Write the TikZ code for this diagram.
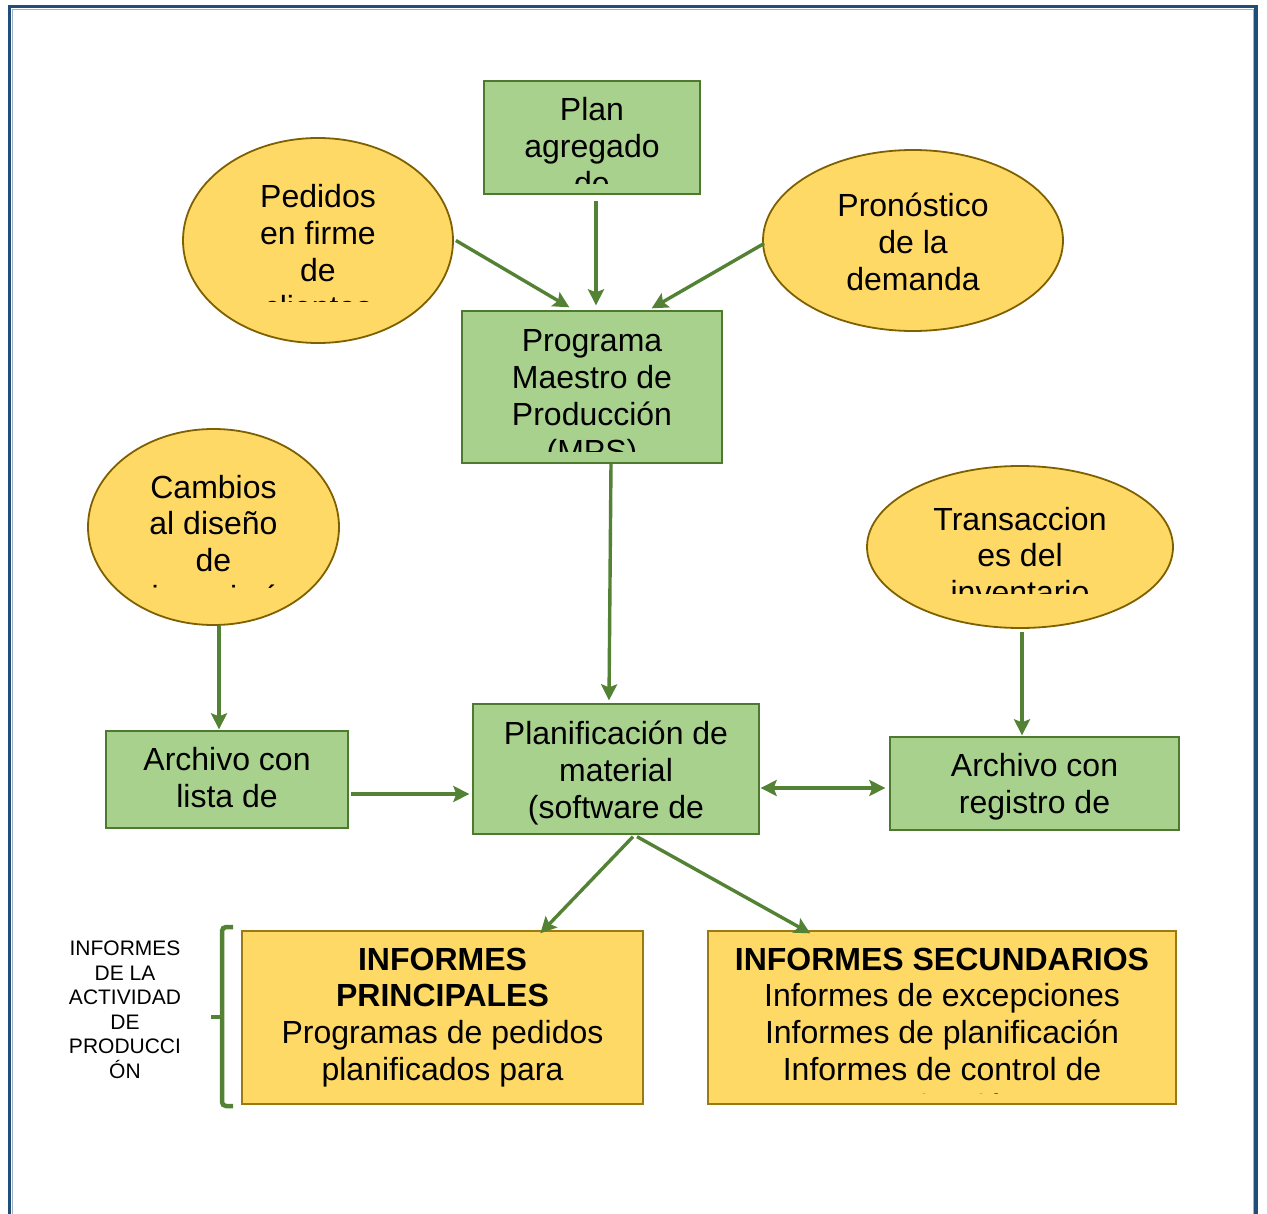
\documentclass[tikz,border=0pt]{standalone}
\usepackage{fontspec}
\setmainfont{Liberation Sans}
\usetikzlibrary{shapes.geometric,arrows.meta}
\definecolor{gfill}{HTML}{A9D18E}
\definecolor{gborder}{HTML}{4E7A30}
\definecolor{yfill}{HTML}{FFD966}
\definecolor{eborder}{HTML}{7F6000}
\definecolor{yborder}{HTML}{9C7A12}
\definecolor{agreen}{HTML}{548235}
\definecolor{framec}{HTML}{1F4E79}
\definecolor{framel}{HTML}{9DB3C8}
\newcommand\lns[1]{\begin{tabular}[t]{@{}c@{}}#1\end{tabular}}
\tikzset{
  gbox/.style={draw=gborder, fill=gfill, line width=1.3pt, inner sep=0pt, rectangle},
  ybox/.style={draw=yborder, fill=yfill, line width=1.3pt, inner sep=0pt, rectangle},
  yell/.style={draw=eborder, fill=yfill, line width=1.8pt, inner sep=0pt, ellipse},
  txt/.style={anchor=base, inner sep=0pt, font=\fontsize{32}{36.8}\selectfont},
  smalltxt/.style={anchor=base, inner sep=0pt, font=\fontsize{21}{24.5}\selectfont},
  arr/.style={draw=agreen, line width=3.4pt, -{Stealth[length=16pt,width=16pt,inset=3pt]}},
  darr/.style={draw=agreen, line width=3.4pt, {Stealth[length=16pt,width=16pt,inset=3pt]}-{Stealth[length=16pt,width=16pt,inset=3pt]}},
}
\begin{document}
\begin{tikzpicture}[x=1pt,y=-1pt]
\useasboundingbox (0,0) rectangle (1267,1214);
\fill[white] (0,0) rectangle (1267,1214);
% frame
\draw[framec, line width=3.2pt] (9.5,1214) -- (9.5,6.5) -- (1256,6.5) -- (1256,1214);
\draw[framel, line width=0.8pt] (12.2,1214) -- (12.2,9.2) -- (1253.3,9.2) -- (1253.3,1214);

% shapes
\node[gbox, minimum width=216pt, minimum height=113pt] (plan) at (592,137.5) {};
\node[yell, minimum width=270pt, minimum height=205pt] (ped) at (318,240.5) {};
\node[yell, minimum width=300pt, minimum height=181pt] (pron) at (913,240.5) {};
\node[gbox, minimum width=260pt, minimum height=152pt] (prog) at (592,387) {};
\node[yell, minimum width=251pt, minimum height=196pt] (camb) at (213.5,527) {};
\node[yell, minimum width=306pt, minimum height=162pt] (trans) at (1020,547) {};
\node[gbox, minimum width=242pt, minimum height=97pt] (lista) at (227,779.5) {};
\node[gbox, minimum width=286pt, minimum height=130pt] (planif) at (616,769) {};
\node[gbox, minimum width=289pt, minimum height=93pt] (reg) at (1034.5,783.5) {};
\node[ybox, minimum width=401pt, minimum height=173pt] (prin) at (442.5,1017.5) {};
\node[ybox, minimum width=468pt, minimum height=173pt] (sec) at (942,1017.5) {};

% texts (clipped as in the original)
\begin{scope}\clip (486,83) rectangle (698,184);
\node[txt] (planT) at (592,120.5) {\lns{Plan\\agregado\\de}};
\end{scope}
\begin{scope}\clip (185,140) rectangle (451,302);
\node[txt] (pedT) at (318,208) {\lns{Pedidos\\en firme\\de\\clientes}};
\end{scope}
\node[txt] (pronT) at (913,216.5) {\lns{Pronóstico\\de la\\demanda}};
\begin{scope}\clip (464,313) rectangle (720,452);
\node[txt] (progT) at (592,352) {\lns{Programa\\Maestro de\\Producción\\(MPS)}};
\end{scope}
\begin{scope}\clip (90,431) rectangle (337,587);
\node[txt] (cambT) at (213.5,498) {\lns{Cambios\\al diseño\\de}};
\node[txt] (cambT2) at (222,608.4) {ingeniería};
\end{scope}
\begin{scope}\clip (869,468) rectangle (1171,593);
\node[txt] (transT) at (1020,530) {\lns{Transaccion\\es del\\inventario}};
\end{scope}
\node[txt] (listaT) at (227,770.5) {\lns{Archivo con\\lista de}};
\node[txt] (planifT) at (616,744.5) {\lns{Planificación de\\material\\(software de}};
\node[txt] (regT) at (1034.5,776.5) {\lns{Archivo con\\registro de}};
\node[txt] (prinT) at (442.5,970) {\lns{\textbf{INFORMES}\\\textbf{PRINCIPALES}\\Programas de pedidos\\planificados para}};
\begin{scope}\clip (710,933) rectangle (1174,1093.5);
\node[txt] (secT) at (942,970) {\lns{\textbf{INFORMES SECUNDARIOS}\\Informes de excepciones\\Informes de planificación\\Informes de control de\\producción}};
\end{scope}
\node[smalltxt] (lab) at (125,955.5) {\lns{INFORMES\\DE LA\\ACTIVIDAD\\DE\\PRODUCCI\\\smash{Ó}N}};

% brace
\draw[agreen, line width=4.5pt, rounded corners=4pt] (233,927) -- (222,927) -- (222,1106) -- (233,1106);
\draw[agreen, line width=4.5pt] (211,1017) -- (222,1017);

% connectors
\draw[arr] ([xshift=2pt]ped.east) -- ([xshift=108pt,yshift=3pt]prog.north west);
\draw[arr] ([xshift=4pt,yshift=-6pt]plan.south) -- ([xshift=4pt,yshift=5pt]prog.north);
\draw[arr] ([xshift=2pt,yshift=-3pt]pron.west) -- ([xshift=-71pt,yshift=2pt]prog.north east);
\draw[arr] ([xshift=19pt]prog.south) -- ([xshift=-7pt,yshift=3pt]planif.north);
\draw[arr] ([xshift=5.5pt]camb.south) -- ([xshift=-8pt,yshift=1pt]lista.north);
\draw[arr] ([xshift=2pt,yshift=-3pt]trans.south) -- ([xshift=-12.5pt,yshift=1pt]reg.north);
\draw[arr] ([xshift=2pt,yshift=-14.5pt]lista.east) -- ([xshift=-3pt,yshift=-25pt]planif.west);
\draw[darr] ([xshift=1pt,yshift=-19pt]planif.east) -- ([xshift=-4pt,yshift=-4.5pt]reg.west);
\draw[arr] ([xshift=17pt,yshift=-2pt]planif.south) -- ([xshift=299pt,yshift=-3pt]prin.north west);
\draw[arr] ([xshift=21pt,yshift=-2pt]planif.south) -- ([xshift=103pt,yshift=-3pt]sec.north west);
\end{tikzpicture}
\end{document}
